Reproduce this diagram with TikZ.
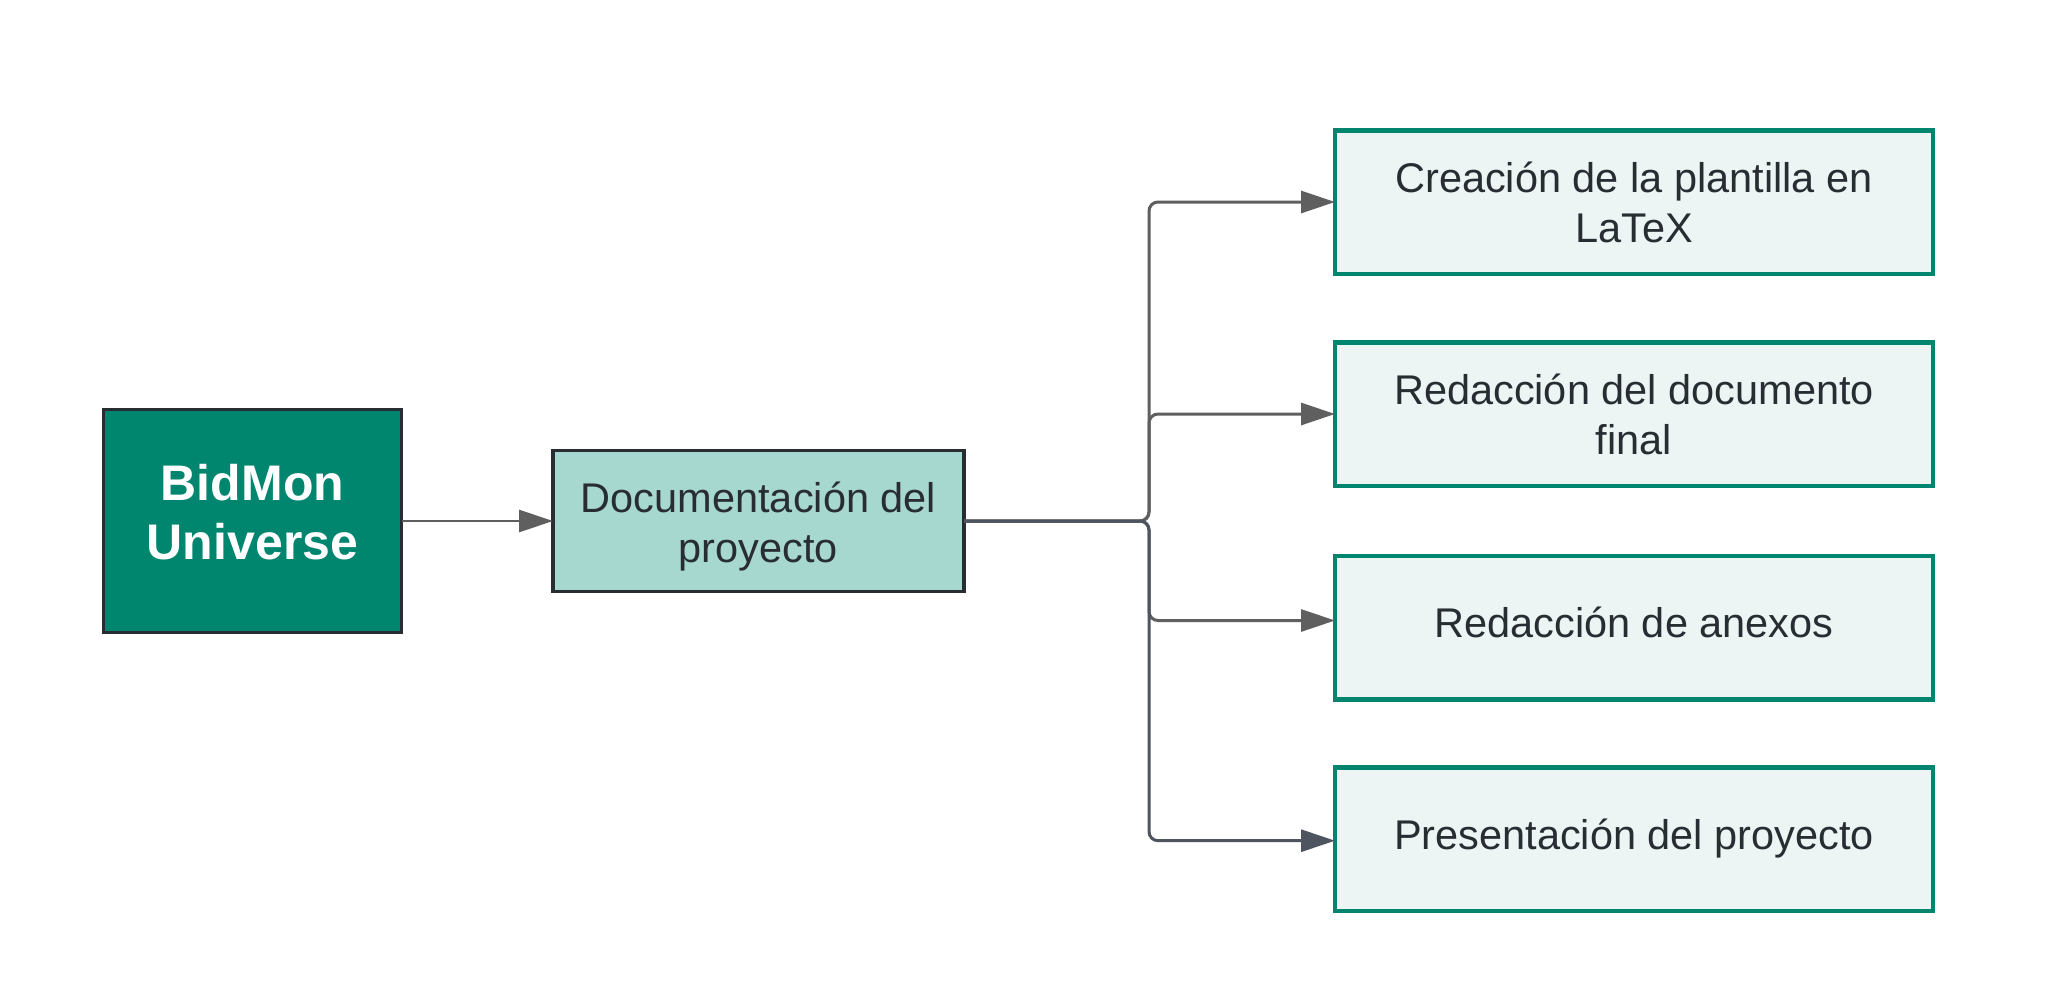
\documentclass[tikz,border=0pt]{standalone}
\usepackage{fontspec}
\setmainfont{Liberation Sans}
\usetikzlibrary{arrows.meta}
\definecolor{tealdark}{HTML}{00866F}
\definecolor{tealmid}{HTML}{A6D8D0}
\definecolor{teallight}{HTML}{ECF5F3}
\definecolor{inkdark}{HTML}{282C33}
\definecolor{linegrey}{HTML}{5F5F5F}
\definecolor{lineslate}{HTML}{4E5560}
\begin{document}
\begin{tikzpicture}[x=1pt,y=-1pt,
  boxbase/.style={rectangle, draw, inner sep=0pt, outer sep=0pt},
  rootbox/.style={boxbase, fill=tealdark, draw=inkdark, line width=3.5pt,
    minimum width=298pt, minimum height=223pt},
  midbox/.style={boxbase, fill=tealmid, draw=inkdark, line width=3.5pt,
    minimum width=411pt, minimum height=141pt},
  leafbox/.style={boxbase, fill=teallight, draw=tealdark, line width=4.5pt,
    minimum width=598pt, minimum height=143.5pt},
  plaintext/.style={inner sep=0pt, outer sep=0pt, align=center, text=inkdark,
    font={\fontsize{41.5pt}{50pt}\selectfont}},
  roottext/.style={inner sep=0pt, outer sep=0pt, align=center, text=white,
    font={\fontsize{50pt}{59pt}\selectfont\bfseries}},
  conn/.style={line width=3pt, rounded corners=9pt,
    -{Triangle[length=34pt,width=22pt]}},
]
\fill[white] (0,0) rectangle (2051,1007);
\useasboundingbox (0,0) rectangle (2051,1007);

\node[rootbox] (root) at (252.5,521) {};
\node[roottext] (roottxt) at (252.5,512) {BidMon\\Universe};
\node[midbox] (doc) at (758.5,521) {};
\node[plaintext] (doctxt) at (758.5,527) {Documentación del\\proyecto};

\node[leafbox] (b1) at (1634,202) {};
\node[plaintext] (t1) at (1634,202) {Creación de la plantilla en\\LaTeX};
\node[leafbox] (b2) at (1634,414) {};
\node[plaintext] (t2) at (1634,414) {Redacción del documento\\final};
\node[leafbox] (b3) at (1634,627.5) {};
\node[plaintext] (t3) at (1634,622.5) {Redacción de anexos};
\node[leafbox] (b4) at (1634,839.2) {};
\node[plaintext] (t4) at (1634,839) {Presentación del proyecto};

\coordinate (j) at (1149,521);

\draw[line width=2.7pt, draw=linegrey, -{Triangle[length=34pt,width=22pt]}]
  (root.east) -- (doc.west);

\draw[conn, draw=linegrey] (doc.east) -- (j) |- (b1.west);
\draw[conn, draw=linegrey] (doc.east) -- (j) |- (b2.west);
\draw[conn, draw=linegrey] (doc.east) -- (j) |- ([yshift=7pt]b3.west);
\draw[conn, draw=lineslate] (doc.east) -- (j) |- ([yshift=-1.5pt]b4.west);
\end{tikzpicture}
\end{document}
